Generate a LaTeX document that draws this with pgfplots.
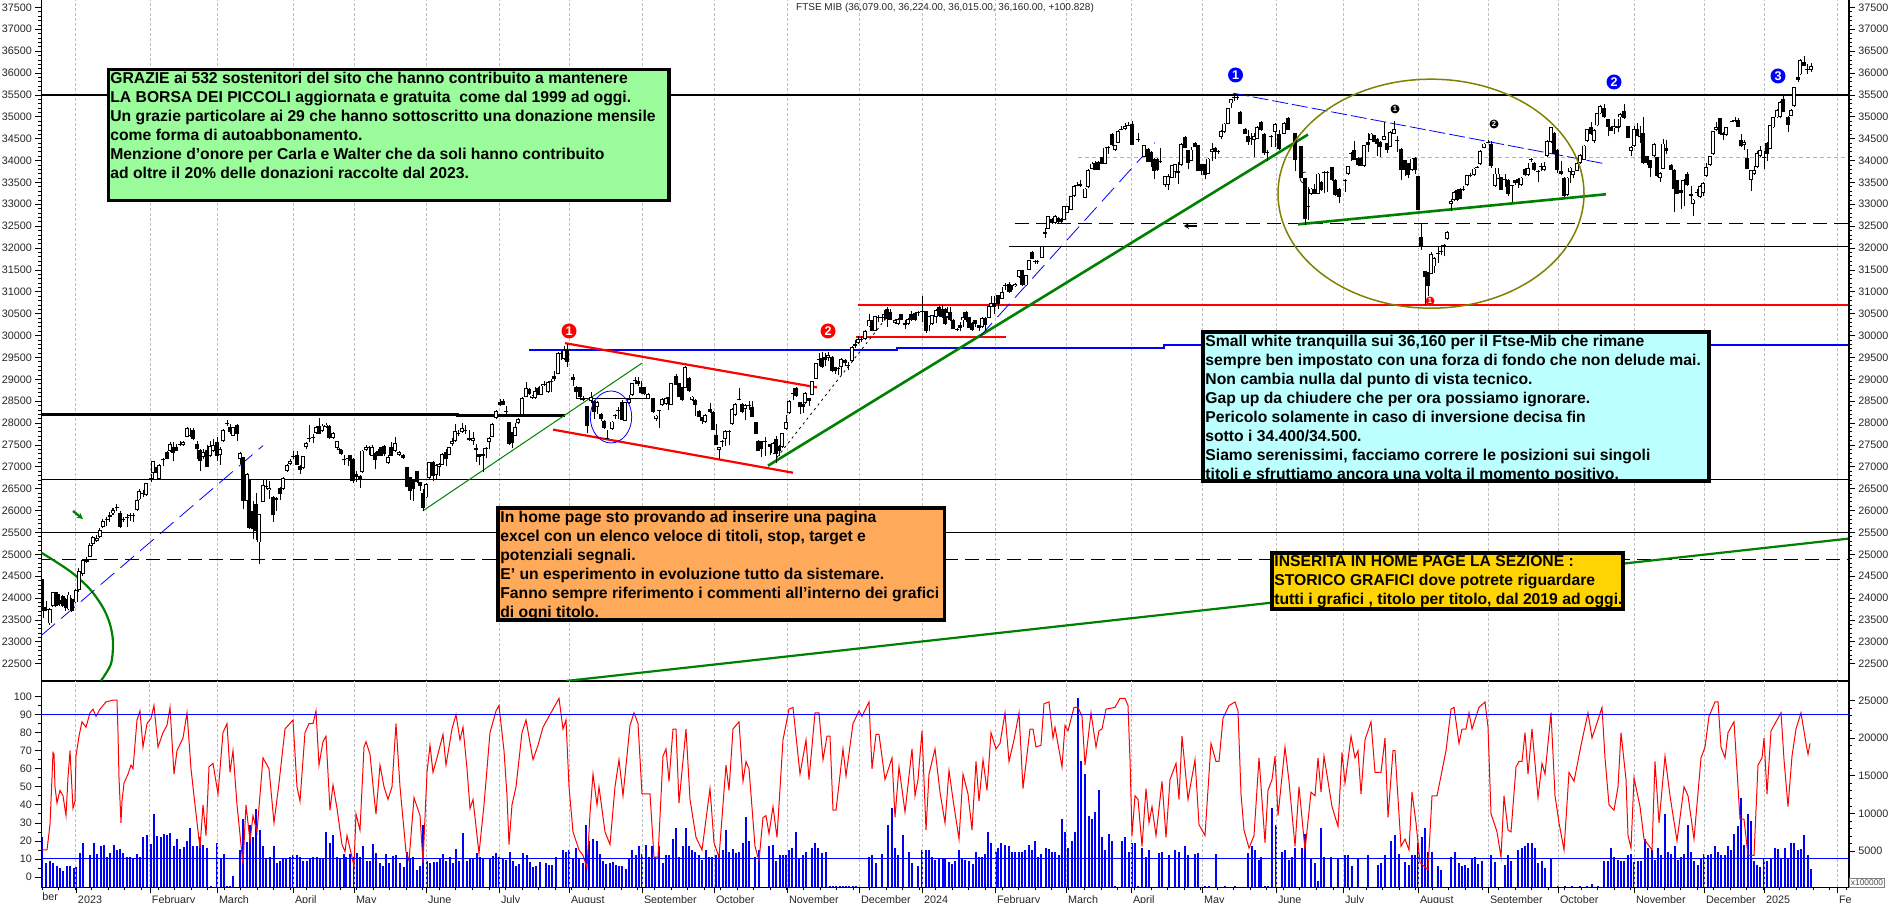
\documentclass[border=0pt]{standalone}
\usepackage{fontspec}
\setmainfont{Liberation Sans}
\usepackage{pgfplots}
\usepackage{pgfplotstable}
\pgfplotsset{compat=1.18}
\usetikzlibrary{arrows.meta}

\definecolor{boxgreen}{RGB}{155,252,155}
\definecolor{boxorange}{RGB}{255,170,90}
\definecolor{boxcyan}{RGB}{187,255,255}
\definecolor{boxyellow}{RGB}{255,212,0}
\definecolor{lineolive}{RGB}{128,128,0}
\definecolor{linegreen}{RGB}{0,128,0}
\definecolor{lineorange}{RGB}{255,160,80}

% x is the horizontal position in the 1890 wide picture, one candle every 3.3
\pgfplotstableread{
x o h l c
42 24432 24432 23516 23745
44 23800 23940 23550 23700
47 23760 23940 23700 23720
50 23420 23780 23390 23740
53 23820 24150 23800 24130
56 24130 24150 23800 23830
58 24100 24120 23820 23840
60 23950 24000 23830 23860
63 24050 24070 23800 23820
66 23970 24000 23700 23780
69 23740 24130 23720 24080
72 23970 24000 23680 23700
76 23900 24200 23880 24180
79 24180 24680 24150 24610
83 24550 24900 24500 24870
87 24820 24950 24800 24860
90 24950 25250 24930 25220
93 25240 25420 25200 25400
97 25300 25450 25280 25370
100 25400 25600 25380 25550
103 25630 25800 25600 25770
107 25810 25850 25650 25790
110 25900 25960 25750 25860
113 25935 26050 25900 26011
117 26050 26150 25980 26090
120 25950 25980 25600 25615
123 25790 25850 25750 25810
127 25850 25920 25630 25830
130 25900 25940 25770 25910
133 25910 25950 25750 25895
137 26011 26260 25990 26240
139 26255 26500 26240 26454
143 26410 26470 26300 26400
146 26362 26640 26340 26622
151 26720 26830 26650 26740
153 26851 27140 26700 27125
157 27000 27020 26700 26850
159 26721 27060 26700 27041
163 27150 27200 27025 27170
167 27331 27350 27170 27179
170 27354 27570 27340 27522
173 27461 27560 27125 27308
176 27461 27520 27350 27370
180 27500 27600 27480 27530
183 27492 27590 27470 27568
187 27690 27900 27670 27888
190 27720 27880 27680 27700
193 27843 27880 27620 27629
197 27522 27600 27180 27408
200 27385 27400 26900 27125
203 27217 27400 27180 27331
207 27385 27500 26990 27003
210 27247 27600 27230 27484
213 27354 27640 27340 27499
217 27568 27680 27140 27255
220 27263 27450 27050 27408
223 27583 27860 27560 27843
227 27990 28070 27940 28000
230 27919 27980 27760 27789
233 27713 27920 27700 27904
237 27957 27970 27580 27751
240 27171 27330 27060 27308
243 27217 27230 26030 26210
247 26225 26850 26180 26835
249 26721 26720 25580 25592
253 25981 26220 25340 25577
256 26149 26390 25320 25538
259 25271 25930 24790 25920
263 26202 26720 26190 26584
266 26530 26720 26490 26550
269 26470 26680 26260 26515
273 26316 26340 25750 25905
276 26280 26320 26000 26250
280 26507 26540 26250 26378
283 26492 26760 26480 26744
287 26896 27060 26880 27041
290 27064 27170 27050 27141
293 27240 27370 27180 27220
297 27278 27360 27040 27049
300 27026 27040 26830 26927
303 26973 27250 26950 27240
306 27446 27560 27400 27545
309 27650 27965 27560 27660
313 27680 27750 27540 27690
316 27770 27930 27750 27904
319 27942 28117 27740 27751
322 27827 27980 27800 27942
326 27920 28010 27890 27965
329 27942 27960 27640 27660
333 27660 27800 27640 27774
337 27430 27600 27400 27583
339 27400 27420 27290 27380
341 27390 27400 27280 27290
344 27170 27260 27050 27160
348 27200 27260 27020 27190
350 27270 27280 26680 27140
353 27180 27190 26640 26680
356 26840 26900 26650 26770
360 26800 26810 26510 26700
362 26873 27390 26860 27370
366 27385 27500 27370 27460
369 27460 27480 27280 27440
372 27255 27490 27240 27446
375 27308 27330 26940 27156
378 27370 27400 27240 27255
381 27446 27460 27240 27255
384 27468 27490 27240 27293
388 27079 27260 27060 27232
391 27446 27560 27240 27255
395 27354 27680 27340 27545
399 27270 27370 27250 27346
403 27278 27290 27180 27201
407 26999 27000 26540 26545
410 26759 26760 26250 26438
413 26720 26730 26230 26492
417 26896 26900 26640 26645
420 26645 26650 26450 26553
423 26393 26500 25990 26057
426 26301 26620 26290 26606
429 26744 27120 26720 27102
433 27118 27130 26680 26797
436 26812 27060 26720 27049
439 26988 27090 26800 27064
442 27049 27310 27030 27293
446 27331 27400 27020 27178
449 27278 27460 27260 27446
452 27522 27660 27480 27583
455 27583 27980 27570 27812
458 27780 27850 27700 27770
462 27789 27990 27780 27888
465 27830 27960 27760 27840
469 27660 27850 27590 27610
473 27600 27800 27500 27650
476 27385 27520 27100 27423
479 27293 27300 27030 27232
483 27290 27440 26870 27250
486 27430 27460 27200 27420
489 27575 27680 27400 27660
492 27690 28000 27670 27980
496 28109 28290 28090 28270
500 28476 28560 28400 28422
503 28514 28560 28420 28422
506 28280 28400 28130 28270
509 28018 28030 27500 27522
512 27789 27800 27430 27537
515 27713 28000 27700 27903
518 27995 28110 27980 28094
522 28193 28590 28180 28575
526 28605 28930 28590 28803
529 28788 28800 28650 28666
532 28575 28640 28560 28628
535 28575 28830 28560 28727
538 28803 28820 28640 28651
541 28651 28900 28640 28857
544 28890 28960 28850 28900
548 28704 28950 28690 28933
551 28950 29000 28700 28940
554 29086 29200 28950 29010
558 29124 29620 29110 29605
561 29590 29640 29450 29570
564 29467 29770 29450 29658
567 29674 29800 29290 29391
573 29048 29110 28850 28987
576 28834 28840 28550 28720
580 28819 28830 28520 28605
583 28560 28620 28500 28540
587 28399 28400 27780 27941
591 28498 28710 28450 28590
594 28514 28530 28100 28247
597 28376 28500 28200 28476
601 28209 28220 28040 28087
604 28056 28060 27860 27888
607 27660 27830 27630 27650
612 27865 28050 27850 28033
615 28190 28200 28100 28180
618 28290 28370 28100 28280
622 28491 28520 28060 28079
625 28056 28480 28040 28476
629 28453 28640 28440 28552
632 28636 28920 28620 28910
635 28970 29050 28900 28980
638 28972 29050 28850 28895
641 28818 28970 28660 28680
644 28818 28820 28650 28666
648 28551 28680 28540 28666
653 28574 28580 28230 28246
656 28094 28180 28050 28170
659 28290 28300 27880 28280
662 28422 28570 28400 28551
666 28437 28600 28420 28574
668 28590 28600 28300 28437
671 28422 28920 28410 28910
676 29086 29130 28870 28880
679 28910 28920 28600 28605
682 28819 28830 28500 28528
685 28803 29300 28790 29276
689 29025 29060 28710 28727
692 28528 28610 28500 28605
695 28528 28540 28150 28414
699 28284 28300 28130 28132
702 28132 28140 27980 28040
705 28017 28200 28000 28185
710 28322 28460 28240 28246
713 28261 28270 27830 27842
716 27735 27970 27500 27506
719 27392 27460 27170 27445
722 27600 27610 27450 27590
725 27636 27840 27480 27826
729 27805 27830 27490 27815
732 27979 28340 27960 28322
735 28185 28450 28170 28437
739 28550 28790 28520 28540
742 28437 28450 28230 28246
745 28322 28440 28060 28414
749 28400 28510 28300 28410
752 28376 28500 28140 28147
756 28017 28020 27740 27750
758 27598 27610 27360 27369
761 27582 27590 27220 27410
765 27580 27680 27250 27600
770 27522 27530 27260 27445
773 27307 27560 27290 27536
776 27636 27700 27080 27292
779 27483 27490 27250 27369
782 27445 27780 27430 27765
786 27865 28180 27850 28017
789 28224 28520 28210 28498
793 28660 28800 28520 28680
796 28803 28820 28600 28628
800 28475 28490 28200 28376
803 28437 28450 28230 28360
805 28452 28700 28440 28681
809 28574 28580 28380 28513
812 28651 28970 28640 28956
816 29009 29380 29000 29368
819 29470 29610 29300 29460
822 29490 29620 29260 29276
825 29520 29610 29310 29430
828 29490 29620 29410 29544
832 29520 29530 29170 29185
835 29276 29290 29110 29185
838 29260 29280 29100 29250
841 29276 29480 29100 29467
845 29444 29460 29300 29368
848 29320 29400 29220 29330
852 29413 29750 29400 29734
855 29810 29900 29720 29750
858 29825 29980 29810 29925
861 29930 30000 29850 29920
865 29925 30120 29900 30100
869 30207 30490 30190 30345
872 30345 30360 30100 30115
875 30115 30450 30100 30436
878 30420 30480 30300 30410
882 30420 30480 30320 30430
884 30480 30580 30350 30500
887 30612 30660 30200 30383
890 30535 30600 30350 30360
895 30283 30380 30260 30345
898 30268 30400 30250 30368
901 30482 30500 30350 30360
905 30250 30360 30160 30280
908 30268 30400 30250 30383
911 30497 30560 30340 30345
915 30512 30530 30340 30345
918 30530 30560 30450 30520
922 30560 30894 30300 30550
926 30558 30570 30060 30115
929 30230 30450 30100 30436
932 30268 30480 30250 30459
936 30421 30600 30280 30589
939 30650 30670 30420 30436
942 30612 30700 30400 30420
945 30612 30620 30250 30268
947 30420 30660 30400 30535
950 30535 30660 30330 30344
953 30360 30370 30140 30154
957 30150 30170 30100 30140
960 30250 30300 30100 30180
963 30344 30540 30200 30420
966 30535 30550 30300 30344
969 30420 30430 30170 30177
972 30291 30300 30100 30130
975 30344 30350 30200 30268
979 30230 30240 30100 30177
982 30192 30420 30180 30398
985 30405 30420 30100 30230
989 30405 30680 30390 30665
991 30665 30900 30650 30741
994 30741 30900 30500 30650
998 30916 30930 30600 30726
1002 30840 31110 30830 30993
1005 31160 31200 31050 31150
1009 31184 31220 30980 30993
1011 31145 31150 31000 31031
1015 31122 31200 31100 31184
1019 31336 31500 31320 31489
1022 31489 31500 31130 31145
1026 31145 31390 31130 31374
1029 31504 31730 31490 31718
1032 31909 31930 31750 31756
1035 31700 31730 31640 31690
1037 31690 31720 31640 31700
1042 31779 32050 31770 32038
1045 32328 32450 32240 32366
1048 32442 32740 32430 32725
1052 32671 32680 32560 32572
1055 32572 32760 32560 32725
1058 32694 32710 32570 32595
1061 32671 32680 32580 32595
1064 32648 32970 32640 32953
1067 32801 32970 32790 32953
1071 32877 33200 32860 33183
1074 33183 33430 33170 33412
1077 33440 33500 33420 33450
1080 33472 33560 33400 33419
1085 33152 33370 33140 33358
1088 33396 33800 33380 33778
1092 33816 33960 33800 33930
1095 33946 34000 33780 33793
1098 33968 33990 33780 33793
1102 34083 34090 33920 33930
1105 33930 34310 33920 34297
1108 34290 34330 34150 34300
1112 34602 34620 34340 34350
1115 34235 34360 34220 34350
1118 34403 34690 34390 34670
1121 34720 34790 34690 34710
1125 34724 34850 34700 34785
1128 34800 34870 34780 34810
1132 34846 34900 34350 34365
1138 34490 34620 34430 34480
1144 34083 34360 34070 34350
1148 34273 34290 33960 33968
1151 34197 34210 33850 33968
1154 34045 34050 33570 33762
1157 34045 34060 33760 33778
1160 33990 34280 33940 33980
1165 33434 33650 33400 33640
1168 33434 33700 33330 33648
1172 33610 33900 33600 33892
1175 33739 33930 33600 33915
1178 33755 33960 33470 33716
1181 33892 34390 33880 34373
1185 34541 34560 34280 34297
1188 34236 34240 33800 33946
1191 34000 34300 33980 34250
1195 34403 34420 34300 34312
1198 34350 34360 33750 33762
1201 33915 33930 33680 33762
1205 33915 33930 33580 33663
1208 33701 34060 33690 34045
1212 34198 34400 34000 34258
1215 34297 34300 34040 34198
1218 34210 34230 34160 34190
1221 34541 34690 34500 34678
1224 34655 34860 34640 34846
1228 34846 35200 34840 35189
1231 35304 35410 35200 35395
1234 35450 35510 35370 35460
1237 35460 35530 35380 35450
1240 35113 35130 34830 34846
1245 34731 34740 34600 34617
1248 34556 34700 34350 34426
1251 34520 34630 34350 34510
1254 34465 34620 34083 34556
1257 34503 34790 34490 34770
1261 34884 34900 34680 34693
1264 34617 34630 34130 34174
1267 34200 34250 34000 34190
1271 34550 34590 34310 34540
1275 34655 34860 34300 34831
1279 34602 34700 34250 34274
1284 34617 34880 34600 34861
1288 34983 35000 34700 34708
1295 34632 34640 33755 34007
1301 34327 34340 33600 33610
1305 33602 33610 32530 32671
1308 32940 33400 32650 32950
1311 33244 33370 33220 33358
1314 33358 33470 33230 33244
1318 33244 33720 33230 33701
1321 33510 33530 33300 33320
1324 33740 33750 33250 33730
1327 33720 33750 33280 33730
1332 33854 33860 33540 33549
1335 33564 33570 33200 33220
1339 33358 33370 33040 33167
1345 33550 33570 33280 33540
1348 33686 33880 33670 33869
1351 34170 34200 33990 34180
1354 34236 34450 34010 34022
1358 34068 34080 33880 33892
1361 34068 34080 33870 33877
1364 33877 34360 33860 34350
1368 34426 34620 34200 34350
1371 34480 34630 34470 34617
1374 34579 34590 34420 34426
1377 34503 34510 34100 34388
1380 34426 34440 34080 34312
1384 34480 34880 34460 34556
1387 34403 34410 34180 34236
1390 34312 34670 34300 34655
1394 34617 34900 34600 34716
1397 34480 34560 34200 34470
1401 34274 34280 33550 33793
1405 34007 34020 33650 33778
1408 33946 33950 33600 33663
1412 33778 34060 33770 34045
1415 34060 34070 33700 33778
1418 33640 33650 32860 32877
1421 32252 32550 31950 32023
1425 31473 31480 30700 31336
1428 31451 31460 30900 31122
1431 31412 31920 31400 31855
1434 31580 31790 31430 31779
1438 31870 32050 31660 31880
1441 31930 32070 31830 31940
1444 32080 32090 31810 32050
1447 32198 32380 32190 32366
1451 33015 33130 32850 33076
1454 33091 33300 33080 33282
1457 33335 33340 33080 33091
1460 33358 33370 33120 33129
1463 33340 33420 33300 33330
1467 33434 33680 33420 33663
1470 33640 33720 33630 33680
1474 33663 33830 33650 33816
1477 33860 33880 33840 33850
1480 33915 34230 33900 34220
1484 34297 34400 34280 34388
1488 34410 34470 34400 34420
1491 34388 34450 33830 33869
1495 33411 33820 33400 33701
1498 33587 33820 33570 33701
1501 33625 33630 33330 33335
1505 33570 33700 33400 33560
1508 33564 33570 33200 33228
1512 33430 33440 33050 33420
1515 33549 33560 33430 33488
1518 33587 33600 33380 33488
1521 33434 33620 33420 33610
1525 33816 33830 33650 33663
1528 33663 33940 33650 33831
1531 34040 34060 33960 34030
1534 33946 33960 33770 33778
1538 33770 33780 33500 33760
1541 33860 33950 33770 33870
1544 33778 33960 33760 33870
1547 34099 34460 34090 34442
1551 34427 34770 34410 34755
1554 34633 34650 34150 34160
1557 34251 34260 33720 33793
1561 33755 33990 33680 33687
1564 33610 33620 33170 33183
1567 33206 33620 33190 33610
1570 33740 33850 33480 33839
1573 33680 33770 33600 33755
1577 33763 33960 33750 33946
1580 33946 34150 33930 34122
1584 34022 34360 34010 34343
1587 34450 34730 34430 34709
1591 34755 34890 34590 34602
1594 34450 34710 34400 34694
1597 34801 35090 34790 35075
1600 35075 35260 35060 35243
1604 35190 35300 34970 34984
1608 34938 34950 34550 34770
1611 34770 34780 34670 34679
1614 34732 34950 34600 34793
1618 34800 34960 34650 34740
1620 34984 35080 34760 35053
1624 35136 35300 34950 34961
1628 34785 34800 34510 34518
1631 34221 34330 34100 34312
1634 34335 34780 34320 34709
1637 34709 34850 34550 34564
1640 34560 34800 34400 34570
1643 34618 34990 33930 33946
1647 34099 34110 33900 33946
1650 34007 34010 33630 33839
1654 34099 34390 34080 34373
1657 34084 34090 33630 33641
1660 33610 33730 33500 33717
1663 33816 34500 33800 34389
1666 34290 34480 34140 34220
1671 33908 33920 33780 33793
1674 33793 33800 32830 33359
1677 33549 33560 33230 33244
1681 33336 33550 32900 33259
1684 33550 33570 32950 33540
1687 33687 33740 33420 33435
1691 33244 33420 33030 33190
1693 33015 33130 32740 33107
1697 33270 33350 33180 33260
1700 33168 33430 33150 33420
1703 33260 33500 33180 33488
1706 33640 33950 33630 33855
1710 33893 34110 33880 34099
1713 34144 34680 34130 34671
1716 34694 34880 34680 34755
1720 34961 34980 34590 34595
1723 34618 34660 34460 34580
1726 34580 34770 34570 34755
1732 34900 34930 34880 34890
1735 34930 34990 34880 34910
1738 34923 34980 34760 34770
1741 34480 34610 34310 34327
1744 34351 34480 34250 34412
1747 34061 34260 33800 33816
1751 33549 33790 33300 33778
1754 33687 33880 33660 33778
1757 33855 34220 33840 34175
1760 34099 34330 34090 34236
1764 34090 34220 33800 34080
1767 34404 34420 34000 34160
1770 34274 34820 34260 34809
1773 34755 35000 34740 34984
1777 34984 35170 34970 35152
1780 35000 35360 34980 35343
1783 35396 35500 35100 35113
1788 34999 35010 34650 34808
1791 35022 35170 35010 35152
1794 35251 35680 35230 35671
1798 35899 35990 35800 35838
1800 35968 36310 35950 36296
1804 36258 36390 36150 36159
1807 36080 36200 35970 36090
1811 36079 36224 36015 36160
}\candles

% one broken path per layer: wicks, bodies, white inside of the rising candles
\def\wicks{}\def\bodies{}\def\inners{}
\pgfplotstablegetrowsof{\candles}
\pgfmathtruncatemacro\lastrow{\pgfplotsretval-1}
\pgfplotsforeachungrouped \i in {0,...,\lastrow}{%
  \pgfplotstablegetelem{\i}{x}\of\candles\let\cx\pgfplotsretval
  \pgfplotstablegetelem{\i}{o}\of\candles\let\co\pgfplotsretval
  \pgfplotstablegetelem{\i}{h}\of\candles\let\ch\pgfplotsretval
  \pgfplotstablegetelem{\i}{l}\of\candles\let\cl\pgfplotsretval
  \pgfplotstablegetelem{\i}{c}\of\candles\let\cc\pgfplotsretval
  \edef\wicks{\wicks(\cx,\cl)(\cx,\ch)(\cx,nan)}%
  \edef\bodies{\bodies(\cx,\co)(\cx,\cc)(\cx,nan)}%
  \ifnum\cc>\numexpr\co+40\relax
    \edef\inners{\inners(\cx,\the\numexpr\co+20\relax)(\cx,\the\numexpr\cc-20\relax)(\cx,nan)}%
  \fi
}

\def\months{76,150,217,293,354,426,499,569,642,714,787,859,922,995,1066,1131,1202,1276,1343,1418,1488,1558,1634,1704,1764,1837}
\newcommand{\tinyfont}{\fontsize{5.4}{6}\selectfont}
\newcommand{\boxfont}{\fontsize{7.85}{9.5}\selectfont\bfseries}

\pgfplotsset{
  panel/.style={scale only axis, width=903.8pt, xmin=41.4, xmax=1849,
    major tick length=3pt, minor tick length=1.5pt, tick align=outside,
    tick style={black, line width=0.35pt},
    axis line style={black, line width=0.7pt},
    ticklabel style={font=\tinyfont, text=black!85},
    scaled y ticks=false,
    /pgf/number format/assume math mode=true,
    /pgf/number format/set thousands separator={}},
  upper/.style={panel, at={(20.7pt,111pt)}, anchor=south west, height=340.5pt,
    ymin=22105, ymax=37669, ytick={22500,23000,...,37500}, minor y tick num=4},
  lower/.style={panel, at={(20.7pt,7.85pt)}, anchor=south west, height=103.15pt},
  candle/.style={no marks, forget plot, unbounded coords=jump},
  level/.style={black, line width=0.5pt, forget plot},
  grn/.style={color=linegreen, forget plot, no marks}
}

\begin{document}
\begin{tikzpicture}
\path[use as bounding box] (0,0) rectangle (945pt,451.5pt);

\begin{axis}[upper, axis x line*=bottom, axis y line*=left,
  xtick=\months, xticklabels={}, xtick style={draw=none}, xmajorgrids,
  grid style={black!25, dash pattern=on 1.5pt off 1pt, line width=0.5pt},
  yticklabel style={inner sep=0pt, xshift=-1.5pt}]
  % horizontal levels
  \addplot[level, line width=1pt] coordinates {(41.4,35500) (1849,35500)};
  \addplot[level, line width=1.5pt] coordinates {(41.4,28200) (457,28200) (457,28170) (565,28170)};
  \addplot[level, line width=0.55pt] coordinates {(41.4,26700) (1849,26700)};
  \addplot[level, line width=0.4pt] coordinates {(41.4,25500) (1849,25500)};
  \addplot[level, line width=0.6pt, dash pattern=on 7pt off 3.5pt] coordinates {(41.4,24880) (1849,24880)};
  \addplot[level] coordinates {(577,28552) (650,28552)};
  \addplot[level, line width=0.6pt, dash pattern=on 7pt off 3.5pt] coordinates {(1015,32557) (1849,32557)};
  \addplot[level, line width=0.6pt] coordinates {(1009,32030) (1849,32030)};
  \addplot[color=lineorange, line width=0.5pt, dash pattern=on 2pt off 1.5pt, forget plot] coordinates {(1078,34068) (1849,34068)};
  \addplot[red, line width=1pt, forget plot] coordinates {(858,30700) (1849,30700)};
  \addplot[red, line width=1pt, forget plot] coordinates {(856,29963) (1006,29963)};
  \addplot[blue, line width=1pt, forget plot] coordinates {(529,29680) (897,29680) (897,29710) (1164,29710) (1164,29785) (1849,29785)};
  % channel and trend lines
  \addplot[red, line width=1.1pt, forget plot] coordinates {(565,29826) (817,28815)};
  \addplot[red, line width=1.1pt, forget plot] coordinates {(553,27850) (793,26865)};
  \addplot[grn, line width=0.5pt] coordinates {(423,25996) (642,29370)};
  \addplot[grn, line width=1.3pt] coordinates {(768,27025) (1308,34594)};
  \addplot[grn, line width=1.1pt] coordinates {(566,22105) (1849,25360)};
  \addplot[grn, line width=1.3pt] coordinates {(1298,32542) (1606,33229)};
  \addplot[grn, line width=1.1pt, smooth] coordinates {(41,25042) (57,24814) (73,24562) (90,24203) (103,23783) (110,23402) (113,22998) (111,22500) (101,22110)};
  \addplot[blue, line width=0.4pt, dash pattern=on 9pt off 4pt, forget plot] coordinates {(41.4,23147) (263,27484)};
  \addplot[blue, line width=0.4pt, dash pattern=on 9pt off 4pt, forget plot] coordinates {(980,29980) (1155,34411)};
  \addplot[blue, line width=0.4pt, dash pattern=on 8pt off 2pt, forget plot] coordinates {(1233,35540) (1604,33930)};
  \addplot[black, line width=0.4pt, dash pattern=on 1.2pt off 1.8pt, forget plot] coordinates {(777,27216) (887,30421)};
  % candles
  \edef\drawcandles{%
    \noexpand\addplot[candle, black, line width=0.5pt] coordinates {\wicks};
    \noexpand\addplot[candle, black, line width=1.6pt] coordinates {\bodies};
    \noexpand\addplot[candle, white, line width=0.75pt] coordinates {\inners};
  }
  \drawcandles
\end{axis}

\begin{axis}[upper, axis y line*=right, axis x line=none,
  yticklabel style={inner sep=0pt, xshift=1.5pt}]
  \addplot[draw=none, forget plot] coordinates {(100,30000)};
\end{axis}

% lower panel: volume on the right scale
\begin{axis}[lower, axis y line*=right, axis x line=none,
  ymin=173, ymax=27600, ytick={5000,10000,...,25000}, minor y tick num=4,
  yticklabel style={inner sep=0pt, xshift=1.5pt}]
  \addplot[ycomb, blue, line width=0.95pt, no marks, forget plot] coordinates {
(42,6820)(46,3460)(50,3700)(53,3460)(57,2980)(60,2740)(63,2380)(67,2980)(70,2980)(74,2740)(76,2860)(80,4780)(83,6100)(90,4420)(94,6100)(97,4660)(101,5620)(104,5860)(107,4180)(110,4780)(114,5740)(117,5140)(120,5260)(123,4780)(127,4180)(130,4180)(133,3940)(137,4540)(140,4180)(143,6820)(147,7060)(151,5980)(154,9940)(157,6940)(161,6820)(164,7300)(167,7060)(170,7420)(174,5620)(177,6580)(180,5260)(184,5500)(187,6340)(190,8020)(193,5620)(197,5620)(200,6820)(203,5860)(207,5380)(211,280)(217,6100)(221,4060)(224,4540)(227,280)(230,280)(233,1660)(240,5140)(243,9220)(247,6220)(250,8500)(253,6820)(256,10540)(260,7780)(263,5620)(266,3940)(270,4180)(274,5620)(277,3460)(280,3700)(283,3940)(286,3940)(290,4180)(293,4420)(297,4420)(300,4180)(303,3700)(307,3700)(310,4060)(313,4180)(317,4180)(320,3940)(323,3940)(326,7540)(330,6100)(333,7060)(337,4180)(340,4060)(344,4660)(346,4180)(350,4660)(354,4180)(357,4780)(360,4180)(363,5620)(367,3700)(370,3700)(373,5980)(376,4780)(380,3340)(383,2980)(386,4660)(389,3340)(393,4300)(396,4420)(400,3460)(404,2860)(407,4900)(410,3940)(413,4180)(417,2500)(420,2980)(423,8500)(427,3700)(430,3460)(434,3580)(437,3580)(440,3940)(443,4540)(446,3700)(450,4180)(453,3460)(456,5260)(459,3700)(463,7420)(467,3700)(470,3940)(473,3940)(477,4780)(480,4180)(483,4060)(490,4060)(493,4300)(496,4780)(499,4180)(503,3940)(506,3820)(510,4900)(513,3700)(516,2980)(519,3220)(523,4780)(527,4420)(530,3580)(533,2860)(536,2980)(540,3580)(546,3340)(549,3100)(552,3100)(556,4180)(563,5140)(566,4900)(569,5140)(573,4060)(576,5380)(579,4060)(583,3460)(586,8500)(589,6340)(593,6580)(597,6340)(600,4540)(603,3700)(606,3220)(610,3340)(613,3580)(616,3100)(619,2980)(622,2980)(626,2620)(629,4060)
(632,5140)(636,4420)(639,5620)(642,4660)(646,5860)(649,4180)(652,5620)(655,4180)(659,5620)(663,3460)(666,4420)(669,4420)(673,6580)(676,8020)(679,4180)(683,5620)(686,8020)(689,5620)(692,5140)(695,4900)(699,4420)(702,3820)(706,5140)(709,4180)(712,4180)(716,4420)(719,4660)(723,5140)(726,7780)(729,4900)(733,5260)(736,4780)(739,4900)(743,6100)(746,9460)(749,6340)(755,4180)(759,5140)(769,5620)(773,5860)(776,3700)(780,4420)(783,4420)(786,4420)(789,5140)(792,5380)(796,7540)(799,3940)(803,4420)(806,4900)(812,5380)(815,6100)(818,5380)(822,4780)(826,4900)(830,300)(833,300)(836,300)(840,300)(843,300)(846,300)(849,300)(853,300)(856,300)(869,4180)(872,4420)(876,3460)(882,4660)(888,8500)(892,10660)(895,5380)(898,4420)(903,7060)(909,4900)(912,3460)(918,2980)(922,5140)(926,5140)(929,5140)(932,4180)(935,3820)(939,3940)(943,3940)(945,3940)(949,3580)(952,3220)(955,3700)(959,5140)(962,3940)(965,3820)(969,3700)(973,3220)(976,4900)(979,4180)(982,4180)(985,4660)(988,7540)(991,6100)(996,4900)(998,5380)(1001,6100)(1005,5860)(1009,5620)(1012,4900)(1015,4900)(1019,4900)(1022,4900)(1025,5140)(1029,5860)(1032,5140)(1035,6340)(1038,4180)(1041,4660)(1046,5380)(1049,5260)(1052,4900)(1055,4900)(1059,4420)(1062,9220)(1065,7540)(1068,5380)(1072,6340)(1075,7540)(1078,25300)(1081,16900)(1085,15220)(1089,9700)(1092,9220)(1095,10180)(1099,13060)(1102,6820)(1105,5140)(1109,7300)(1112,6340)(1115,300)(1122,6340)(1125,6820)(1129,4900)(1132,6100)(1135,6100)(1138,300)(1142,5380)(1146,4180)(1149,5140)(1159,4780)(1162,4900)(1169,4420)(1175,5140)(1179,4900)(1185,5620)(1188,4420)(1195,4660)(1198,4780)(1205,300)(1209,300)(1216,4660)(1225,300)(1235,300)(1248,4780)(1252,5620)(1255,5140)(1259,3820)
(1261,4180)(1265,350)(1268,350)(1272,10660)(1276,8500)(1282,4900)(1285,5140)(1289,3820)(1292,4180)(1295,5380)(1302,5380)(1305,7300)(1311,3940)(1315,3460)(1318,1000)(1321,8020)(1324,4180)(1331,4180)(1338,3940)(1345,4420)(1348,4420)(1352,2980)(1358,3940)(1368,4420)(1378,3150)(1381,3460)(1385,4420)(1391,6340)(1395,7060)(1399,4660)(1405,3580)(1409,3150)(1412,4420)(1415,4420)(1418,6100)(1422,6820)(1425,8020)(1428,4900)(1432,4900)(1438,2980)(1441,2500)(1451,4180)(1455,4900)(1459,3460)(1462,2980)(1465,3150)(1468,2740)(1472,3940)(1475,4180)(1478,3220)(1482,3700)(1491,4420)(1495,3580)(1505,3150)(1508,4420)(1511,3700)(1518,5140)(1522,5380)(1525,5620)(1528,6100)(1532,6100)(1535,5380)(1538,3460)(1542,3700)(1545,2740)(1551,3940)(1558,300)(1565,300)(1572,300)(1580,300)(1587,300)(1592,600)(1598,300)(1604,3700)(1608,3700)(1611,5380)(1614,4180)(1618,3820)(1621,3700)(1624,3700)(1628,4420)(1631,4660)(1634,3580)(1638,3700)(1641,3700)(1645,6580)(1648,5380)(1652,5140)(1655,3820)(1658,5380)(1661,4420)(1665,9940)(1668,4900)(1671,4660)(1675,5620)(1678,3820)(1681,4180)(1684,4660)(1688,8500)(1691,4900)(1694,3700)(1698,3150)(1701,3940)(1704,4660)(1708,4420)(1711,4660)(1715,5620)(1718,4900)(1721,4420)(1725,4420)(1728,5620)(1731,5140)(1734,7300)(1738,8260)(1741,12100)(1744,5860)(1748,9940)(1751,8980)(1754,3700)(1757,3150)(1760,2840)(1764,3940)(1767,3700)(1771,3940)(1775,5380)(1778,5260)(1781,3940)(1785,5380)(1788,3940)(1791,6100)(1794,6100)(1798,5140)(1801,5260)(1804,7060)(1808,4420)(1811,2600)
};
\end{axis}

% lower panel: oscillator on the left scale
\begin{axis}[lower, axis x line*=bottom, axis y line*=left,
  ymin=-5.7, ymax=108.6, ytick={0,10,...,100}, minor y tick num=1,
  xtick=\months, minor xtick={42,58.55,...,1849}, xmajorgrids,
  grid style={black!25, dash pattern=on 1.5pt off 1pt, line width=0.5pt},
  xticklabels={2023,February,March,April,May,June,July,August,September,October,November,December,2024,February,March,April,May,June,July,August,September,October,November,December,2025,Fe},
  xticklabel style={anchor=north west, inner sep=0pt, xshift=0.8pt, yshift=-1pt},
  yticklabel style={inner sep=0pt, xshift=-1.5pt}]
  \addplot[red, line width=0.5pt, no marks, forget plot] coordinates {
(42,15)(47,15)(50,29)(52,55)(53,69)(54,68)(55,50)(57,41)(60,48)(63,45)(66,34)(68,55)(70,70)(73,38)(75,42)(76,67)(79,78)(82,86)(86,83)(90,91)(93,93)(96,89)(100,93)(106,97)(113,98)(117,98)(118,80)(119,55)(121,30)(122,42)(124,52)(128,57)(131,62)(133,60)(137,87)(140,92)(143,72)(147,85)(151,88)(154,95)(158,72)(163,80)(167,84)(170,94)(174,57)(177,70)(183,77)(187,91)(191,60)(195,40)(200,16)(203,40)(206,23)(209,61)(213,63)(218,46)(223,80)(227,85)(230,58)(233,70)(237,40)(243,7)(246,40)(250,20)(253,34)(257,25)(263,66)(269,60)(274,30)(279,52)(285,82)(293,87)(297,50)(300,42)(305,80)(309,85)(313,85)(316,92)(319,62)(323,75)(326,78)(330,37)(333,51)(337,38)(342,18)(345,14)(347,23)(354,6)(356,35)(360,26)(364,72)(366,75)(370,68)(374,45)(376,35)(380,62)(384,50)(388,43)(392,50)(396,85)(400,50)(406,14)(409,9)(414,44)(420,34)(423,8)(427,58)(430,73)(433,58)(437,66)(443,79)(446,62)(452,82)(456,90)(460,76)(463,83)(467,60)(470,38)(473,43)(479,13)(484,40)(490,80)(496,92)(499,95)(504,70)(507,45)(509,18)(512,40)(516,50)(522,80)(526,87)(533,65)(538,73)(543,83)(552,92)(559,99)(563,82)(566,87)(569,50)(573,25)(579,15)(583,12)(587,5)(590,35)(593,57)(597,40)(599,50)(605,25)(610,18)(615,50)(619,65)(623,45)(630,84)
(634,91)(638,85)(642,46)(650,46)(654,11)(658,11)(663,67)(666,71)(669,53)(673,82)(676,82)(679,41)(686,82)(690,43)(696,22)(702,15)(710,49)(714,19)(719,11)(726,62)(729,48)(733,82)(739,86)(743,53)(746,64)(749,60)(755,17)(759,9)(763,33)(766,34)(769,24)(773,39)(777,22)(783,76)(789,93)(793,94)(800,57)(806,76)(809,54)(815,91)(819,91)(823,65)(827,78)(830,78)(833,37)(836,37)(843,71)(846,56)(853,85)(859,92)(862,89)(869,97)(872,60)(876,79)(879,79)(885,54)(892,66)(895,33)(899,61)(905,36)(912,71)(915,45)(918,54)(922,81)(926,26)(929,57)(935,71)(940,47)(945,30)(949,59)(953,43)(959,21)(963,57)(968,46)(972,26)(976,64)(979,42)(983,65)(987,48)(991,80)(996,71)(1000,74)(1005,91)(1009,64)(1014,76)(1019,91)(1023,49)(1030,82)(1033,82)(1036,72)(1041,73)(1044,96)(1049,97)(1053,77)(1055,83)(1062,61)(1065,84)(1068,81)(1074,94)(1078,94)(1082,89)(1085,62)(1091,91)(1096,72)(1099,81)(1102,82)(1106,93)(1115,94)(1120,99)(1125,99)(1128,95)(1130,65)(1132,23)(1135,45)(1138,43)(1142,17)(1146,49)(1149,30)(1152,39)(1156,23)(1162,53)(1166,22)(1170,54)(1176,63)(1179,43)(1182,78)(1188,43)(1195,65)(1199,29)(1205,23)(1211,74)(1216,64)(1219,64)(1223,88)(1229,95)(1235,97)(1238,92)(1241,46)(1244,26)(1249,16)(1254,23)(1259,66)
(1265,19)(1268,48)(1272,54)(1275,67)(1278,34)(1285,72)(1289,53)(1295,17)(1299,50)(1305,15)(1311,47)(1315,45)(1318,66)(1321,47)(1324,67)(1332,39)(1338,28)(1342,69)(1345,52)(1351,78)(1355,66)(1358,70)(1361,46)(1365,76)(1371,86)(1375,58)(1381,58)(1385,77)(1388,33)(1393,70)(1395,70)(1401,17)(1405,21)(1409,15)(1412,47)(1416,30)(1420,8)(1428,4)(1432,45)(1437,45)(1446,70)(1451,93)(1454,94)(1459,74)(1462,82)(1466,82)(1469,91)(1472,82)(1479,94)(1485,97)(1488,83)(1491,35)(1497,25)(1501,11)(1504,45)(1508,26)(1511,25)(1516,61)(1519,64)(1522,64)(1525,80)(1528,57)(1532,82)(1538,44)(1542,63)(1545,57)(1551,91)(1555,45)(1559,30)(1564,15)(1569,58)(1574,53)(1581,73)(1588,91)(1592,77)(1595,82)(1602,94)(1605,66)(1609,40)(1614,37)(1618,50)(1621,80)(1626,54)(1628,23)(1631,16)(1634,55)(1640,39)(1644,21)(1652,15)(1655,64)(1659,30)(1665,67)(1670,45)(1677,20)(1684,50)(1688,45)(1694,21)(1701,66)(1705,72)(1709,89)(1715,97)(1718,97)(1721,72)(1725,66)(1728,80)(1734,86)(1740,32)(1744,32)(1748,12)(1754,12)(1758,62)(1762,66)(1764,77)(1767,46)(1771,81)(1781,91)(1784,65)(1788,39)(1792,67)(1796,82)(1801,91)(1806,74)(1808,68)(1810,74)
};
  \addplot[blue, line width=0.5pt, forget plot] coordinates {(41.4,90) (1849,90)};
  \addplot[blue, line width=0.5pt, forget plot] coordinates {(41.4,10) (1849,10)};
\end{axis}

% annotations, in reference pixels
\begin{scope}[x=0.5pt, y=-0.5pt, shift={(0,451.5pt)}]
  \node[anchor=west, font=\tinyfont, inner sep=0pt, text=black!85] at (42,897) {ber};
  \node[draw=black!50, line width=0.3pt, font=\fontsize{4.2}{5}\selectfont, inner sep=0.8pt, text=black!70] at (1867,883) {x100000};
  \node[font=\fontsize{5}{6}\selectfont, inner sep=0pt, text=black!85] at (945,8) {FTSE MIB (36,079.00, 36,224.00, 36,015.00, 36,160.00, +100.828)};

  \draw[color=lineolive, line width=0.75pt] (1431,193.7) ellipse (153 and 114.5);
  \draw[blue, line width=0.4pt] (611,417) ellipse (20.7 and 26);
  \draw[black, line width=0.35pt] (1306,184) arc[start angle=90, end angle=270, radius=6];
  \draw[-{Stealth[length=3pt,width=3pt]}, color=linegreen, line width=1.2pt] (73,511) -- (83,519);
  \draw[-{Stealth[length=2.5pt,width=3pt]}, black, line width=0.7pt] (1197,226) -- (1184,226);

  \draw[black, line width=1.6pt, fill=boxgreen] (108.5,69.4) rectangle (669,200.8);
  \draw[black, line width=1.6pt, fill=boxorange] (498,508) rectangle (944.6,620);
  \draw[black, line width=1.6pt, fill=boxcyan] (1203,332) rectangle (1709,481);
  \draw[black, line width=1.6pt, fill=boxyellow] (1272,553) rectangle (1623,609);

  \node[anchor=north west, inner sep=0pt, align=left, font=\boxfont] at (110,72) {GRAZIE ai 532 sostenitori del sito che hanno contribuito a mantenere\\LA BORSA DEI PICCOLI aggiornata e gratuita\ \ come dal 1999 ad oggi.\\Un grazie particolare ai 29 che hanno sottoscritto una donazione mensile\\come forma di autoabbonamento.\\Menzione d'onore per Carla e Walter che da soli hanno contribuito\\ad oltre il 20\% delle donazioni raccolte dal 2023.};
  \node[anchor=north west, inner sep=0pt, align=left, font=\boxfont] at (500,511) {In home page sto provando ad inserire una pagina\\excel con un elenco veloce di titoli, stop, target e\\potenziali segnali.\\E' un esperimento in evoluzione tutto da sistemare.\\Fanno sempre riferimento i commenti all'interno dei grafici\\di ogni titolo.};
  \node[anchor=north west, inner sep=0pt, align=left, font=\boxfont] at (1205,334.5) {Small white tranquilla sui 36,160 per il Ftse-Mib che rimane\\sempre ben impostato con una forza di fondo che non delude mai.\\Non cambia nulla dal punto di vista tecnico.\\Gap up da chiudere che per ora possiamo ignorare.\\Pericolo solamente in caso di inversione decisa fin\\sotto i 34.400/34.500.\\Siamo serenissimi, facciamo correre le posizioni sui singoli\\titoli e sfruttiamo ancora una volta il momento positivo.};
  \node[anchor=north west, inner sep=0pt, align=left, font=\boxfont] at (1274,555.5) {INSERITA IN HOME PAGE LA SEZIONE :\\STORICO GRAFICI dove potrete riguardare\\tutti i grafici , titolo per titolo, dal 2019 ad oggi.};

  \foreach \xm/\ym/\col/\sz/\fs/\txt in {569/331/red/7.5pt/6.3/1,828/331/red/7.5pt/6.3/2,1235.5/75/blue/7.5pt/6.3/1,1614/82/blue/7.5pt/6.3/2,1778/76/blue/7.5pt/6.3/3,1395/109/black/4.5pt/3.8/1,1494/124/black/4.5pt/3.8/2,1430/301/red/4.5pt/3.8/1}
    \node[circle, fill=\col, inner sep=0pt, minimum size=\sz, text=white, font=\fontsize{\fs}{5}\selectfont\bfseries] at (\xm,\ym) {\txt};
\end{scope}
\end{tikzpicture}
\end{document}
